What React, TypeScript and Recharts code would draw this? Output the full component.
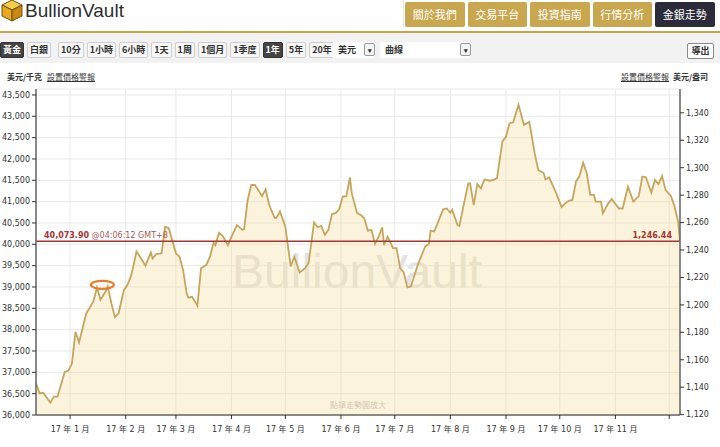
import React from 'react';
import { ComposedChart, Area, XAxis, YAxis, CartesianGrid, ReferenceLine, ReferenceDot } from 'recharts';

// day offsets from 1 Jan 2017, gold price in USD per kg
const days = [
  -19, -17, -15, -11, -9, -7, -3, -1, 1, 3,
  5, 9, 13, 15, 17, 20, 21, 23, 25, 27,
  30, 32, 34, 36, 37, 39, 42, 45, 46, 48,
  51, 53, 55, 59, 61, 63, 65, 66, 68, 71,
  73, 76, 78, 80, 81, 83, 85, 88, 90, 93,
  96, 97, 99, 101, 103, 105, 107, 109, 111, 114,
  115, 117, 120, 122, 123, 125, 128, 131, 133, 136,
  138, 140, 142, 144, 146, 148, 150, 152, 154, 156,
  157, 160, 162, 164, 166, 168, 170, 172, 174, 175,
  177, 180, 182, 184, 186, 188, 190, 192, 194, 198,
  200, 201, 203, 208, 210, 212, 213, 216, 217, 220,
  222, 223, 225, 227, 229, 231, 234, 236, 238, 241,
  243, 245, 247, 250, 253, 256, 259, 261, 264, 265,
  267, 271, 274, 276, 278, 280, 282, 284, 286, 288,
  290, 292, 293, 296, 297, 300, 302, 303, 306, 308,
  311, 314, 317, 319, 321, 324, 326, 328, 330, 332,
  335, 337, 339, 340,
];
const goldKg = [
  36740, 36510, 36520, 36290, 36430, 36430, 37010, 37040, 37200, 37950,
  37700, 38380, 38660, 38990, 38700, 38910, 39010, 38620, 38290, 38380,
  38930, 39050, 39260, 39630, 39830, 39710, 39500, 39810, 39670, 39770,
  39790, 40410, 40380, 39790, 39710, 39400, 38850, 38750, 38770, 38560,
  39440, 39520, 39710, 40040, 39980, 40270, 40200, 39980, 40180, 40450,
  40340, 40350, 41040, 41390, 41390, 41270, 41130, 41290, 40920, 40620,
  40620, 40770, 40410, 39790, 39480, 39710, 39340, 39440, 39570, 40510,
  40400, 40430, 40220, 40340, 40710, 40730, 40820, 41120, 41130, 41570,
  41200, 40730, 40690, 40610, 40320, 40340, 40010, 40180, 40400, 39980,
  40180, 39910, 39910, 39440, 39340, 38990, 39010, 39280, 39540, 39950,
  40010, 40320, 40300, 40820, 40840, 40740, 40810, 40450, 40430, 41040,
  41430, 41430, 40920, 41410, 41310, 41520, 41490, 41510, 41550, 42410,
  42520, 42840, 42860, 43270, 42800, 42870, 42130, 41740, 41670, 41520,
  41570, 41200, 40870, 40960, 41020, 41040, 41470, 41600, 41910, 41670,
  41160, 41160, 41000, 41000, 40730, 40960, 41060, 41000, 40840, 40840,
  41350, 41000, 41130, 41590, 41570, 41210, 41510, 41410, 41600, 41270,
  41130, 40880, 40520, 40073.9,
];

const monthTicks = [0, 31, 59, 90, 120, 151, 181, 212, 243, 273, 304, 334];
const monthLabels = [
  '17 年 1 月', '17 年 2 月', '17 年 3 月', '17 年 4 月', '17 年 5 月', '17 年 6 月',
  '17 年 7 月', '17 年 8 月', '17 年 9 月', '17 年 10 月', '17 年 11 月', '',
];
const kgTicks = [
  36000, 36500, 37000, 37500, 38000, 38500, 39000, 39500,
  40000, 40500, 41000, 41500, 42000, 42500, 43000, 43500,
];
const ozTicks = [1120, 1140, 1160, 1180, 1200, 1220, 1240, 1260, 1280, 1300, 1320, 1340];

const OZ_PER_KG = 32.1507;
const kgMin = 36000;
const kgMax = 43640;
const lastKg = 40073.9;
const lastOz = 1246.44;
const lastTime = '@04:06:12 GMT+8';
const markDay = 18;
const markKg = 39050;

const navItems = ['關於我們', '交易平台', '投資指南', '行情分析', '金銀走勢'];
const metals = ['黃金', '白銀'];
const ranges = ['10分', '1小時', '6小時', '1天', '1周', '1個月', '1季度', '1年', '5年', '20年'];

const data = days.map((d, i) => ({ day: d, price: goldKg[i] }));

const CJK = "'Noto Sans CJK TC', sans-serif";
const SANS = "'DejaVu Sans', 'Noto Sans CJK TC', sans-serif";
const RED = '#a63535';

const fmt = (v: number) => v.toLocaleString('en-US');

const RefLabel = (props: any) => {
  const { x, y, width } = props.viewBox || {};
  return (
    <g fontFamily={SANS} fontSize={8}>
      <text x={x + 8} y={y - 3} fill={RED}>
        <tspan fontWeight="bold">{lastKg.toLocaleString('en-US', { minimumFractionDigits: 2 })}</tspan>
        <tspan fill="#a85858"> {lastTime}</tspan>
      </text>
      <text x={x + width - 8} y={y - 3} fill={RED} fontWeight="bold" textAnchor="end">
        {lastOz.toLocaleString('en-US', { minimumFractionDigits: 2 })}
      </text>
    </g>
  );
};

const Btn = ({ label, active, gapLeft }: { label: string; active?: boolean; gapLeft?: number }) => (
  <div
    style={{
      height: 16,
      lineHeight: '14px',
      padding: '0 2px',
      marginLeft: gapLeft || 0,
      fontSize: 9,
      fontWeight: 'bold',
      borderRadius: 2,
      border: active ? '1px solid #333' : '1px solid #cfcfcf',
      background: active ? '#444' : '#f7f7f7',
      color: active ? '#fff' : '#333',
      boxSizing: 'border-box',
      whiteSpace: 'nowrap',
    }}
  >
    {label}
  </div>
);

const Select = ({ label, width }: { label: string; width: number }) => (
  <div style={{ position: 'relative', width, height: 16, background: '#fff', fontSize: 9, lineHeight: '16px', fontWeight: 'bold' }}>
    <span style={{ paddingLeft: 5 }}>{label}</span>
    <div
      style={{
        position: 'absolute', right: 0, top: 1, width: 11, height: 13, border: '1px solid #999',
        borderRadius: 2, background: '#f4f4f4', fontSize: 7, lineHeight: '13px', textAlign: 'center', color: '#333',
        boxSizing: 'border-box',
      }}
    >
      ▾
    </div>
  </div>
);

export default function App() {
  return (
    <div style={{ position: 'absolute', left: 0, top: 0, width: 720, height: 447, overflow: 'hidden', background: '#fff', fontFamily: CJK, color: '#333' }}>
      {/* header */}
      <svg width={24} height={24} style={{ position: 'absolute', left: 0, top: -2 }}>
        <polygon points="2,7 12,2 22,7 12,12" fill="#f6cd4a" stroke="#6a5216" strokeWidth={1} />
        <polygon points="2,7 12,12 12,23 2,18" fill="#e8a91e" stroke="#6a5216" strokeWidth={1} />
        <polygon points="12,12 22,7 22,18 12,23" fill="#c9870f" stroke="#6a5216" strokeWidth={1} />
      </svg>
      <div style={{ position: 'absolute', left: 25, top: 0, fontFamily: "'Liberation Sans', Arial, sans-serif", fontSize: 19, lineHeight: '22px', color: '#2e2e2e' }}>
        BullionVault
      </div>
      <div style={{ position: 'absolute', left: 403, top: 0, width: 1, height: 27, background: '#e6e6e6' }} />
      <div style={{ position: 'absolute', left: 405, top: 2, display: 'flex', gap: 3 }}>
        {navItems.map((n, i) => (
          <div
            key={n}
            style={{
              width: 59.5, height: 25, lineHeight: '25px', textAlign: 'center', fontSize: 11, color: '#fff',
              background: i === navItems.length - 1 ? '#2c2b39' : '#c8a74f', borderRadius: 2,
            }}
          >
            {n}
          </div>
        ))}
      </div>
      <div style={{ position: 'absolute', left: 0, top: 31, width: 720, height: 2, background: '#c6a54e' }} />
      <div style={{ position: 'absolute', left: 0, top: 33, width: 720, height: 30, background: '#f2f2f2' }} />

      {/* toolbar */}
      <div style={{ position: 'absolute', left: 0, top: 42, display: 'flex', gap: 3 }}>
        {metals.map((m, i) => <Btn key={m} label={m} active={i === 0} />)}
        {ranges.map((r, i) => <Btn key={r} label={r} active={r === '1年'} gapLeft={i === 0 ? 4 : 0} />)}
      </div>
      <div style={{ position: 'absolute', left: 333, top: 42 }}>
        <Select label="美元" width={42} />
      </div>
      <div style={{ position: 'absolute', left: 380, top: 42 }}>
        <Select label="曲線" width={91} />
      </div>
      <div
        style={{
          position: 'absolute', left: 687, top: 43, width: 27, height: 16, border: '1px solid #888', borderRadius: 2,
          background: '#fff', fontSize: 9, lineHeight: '14px', textAlign: 'center', fontWeight: 'bold', boxSizing: 'border-box',
        }}
      >
        導出
      </div>

      {/* units line */}
      <div style={{ position: 'absolute', left: 7, top: 71, fontSize: 8, lineHeight: '11px', fontWeight: 'bold' }}>
        美元/千克 <span style={{ marginLeft: 3, fontWeight: 'normal', textDecoration: 'underline' }}>設置價格警報</span>
      </div>
      <div style={{ position: 'absolute', right: 12, top: 71, fontSize: 8, lineHeight: '11px', fontWeight: 'bold' }}>
        <span style={{ marginRight: 4, fontWeight: 'normal', textDecoration: 'underline' }}>設置價格警報</span>美元/盎司
      </div>

      {/* watermark */}
      <svg width={720} height={447} style={{ position: 'absolute', left: 0, top: 0 }}>
        <text x={232} y={288} fontFamily="'Liberation Sans', Arial, sans-serif" fontSize={48} fill="#e3e3e3">
          BullionVault
        </text>
        <text x={330} y={408} fontFamily={CJK} fontSize={8} fill="#bdbdbd">
          點擊走勢圖放大
        </text>
      </svg>

      <div style={{ position: 'absolute', left: 0, top: 0 }}>
        <ComposedChart width={720} height={447} data={data} margin={{ top: 89, right: 0, bottom: 12, left: 0 }}>
          <CartesianGrid stroke="#e8e8e8" strokeWidth={1} />
          <XAxis
            dataKey="day"
            type="number"
            domain={[-19, 340]}
            ticks={monthTicks}
            interval={0}
            allowDataOverflow
            height={20}
            tickSize={4}
            tickMargin={7}
            tickFormatter={(v: number) => monthLabels[monthTicks.indexOf(v)] ?? ''}
            tick={{ fontSize: 8, fill: '#333', fontFamily: SANS }}
            axisLine={{ stroke: '#666', strokeWidth: 1.5 }}
            tickLine={{ stroke: '#333' }}
          />
          <YAxis
            type="number"
            domain={[kgMin, kgMax]}
            ticks={kgTicks}
            interval={0}
            allowDataOverflow
            width={36}
            tickSize={4}
            tickFormatter={fmt}
            tick={{ fontSize: 8, fill: '#333', fontFamily: SANS }}
            axisLine={{ stroke: '#666', strokeWidth: 1.5 }}
            tickLine={{ stroke: '#333' }}
          />
          <YAxis
            yAxisId="oz"
            orientation="right"
            type="number"
            domain={[kgMin / OZ_PER_KG, kgMax / OZ_PER_KG]}
            ticks={ozTicks}
            interval={0}
            allowDataOverflow
            width={40}
            tickSize={4}
            tickFormatter={fmt}
            tick={{ fontSize: 8, fill: '#333', fontFamily: SANS }}
            axisLine={{ stroke: '#666', strokeWidth: 1.5 }}
            tickLine={{ stroke: '#333' }}
          />
          <Area
            type="linear"
            dataKey="price"
            stroke="#c6a65c"
            strokeWidth={1.8}
            fill="#f7dc9a"
            fillOpacity={0.35}
            dot={false}
            activeDot={false}
            isAnimationActive={false}
          />
          <ReferenceLine y={lastKg} stroke={RED} strokeWidth={1.5} label={<RefLabel />} />
          <ReferenceDot
            x={markDay}
            y={markKg}
            ifOverflow="visible"
            shape={(p: any) => (
              <ellipse cx={p.cx} cy={p.cy} rx={11.5} ry={4} fill="none" stroke="#ee7d2a" strokeWidth={2.2} />
            )}
          />
        </ComposedChart>
      </div>
    </div>
  );
}
